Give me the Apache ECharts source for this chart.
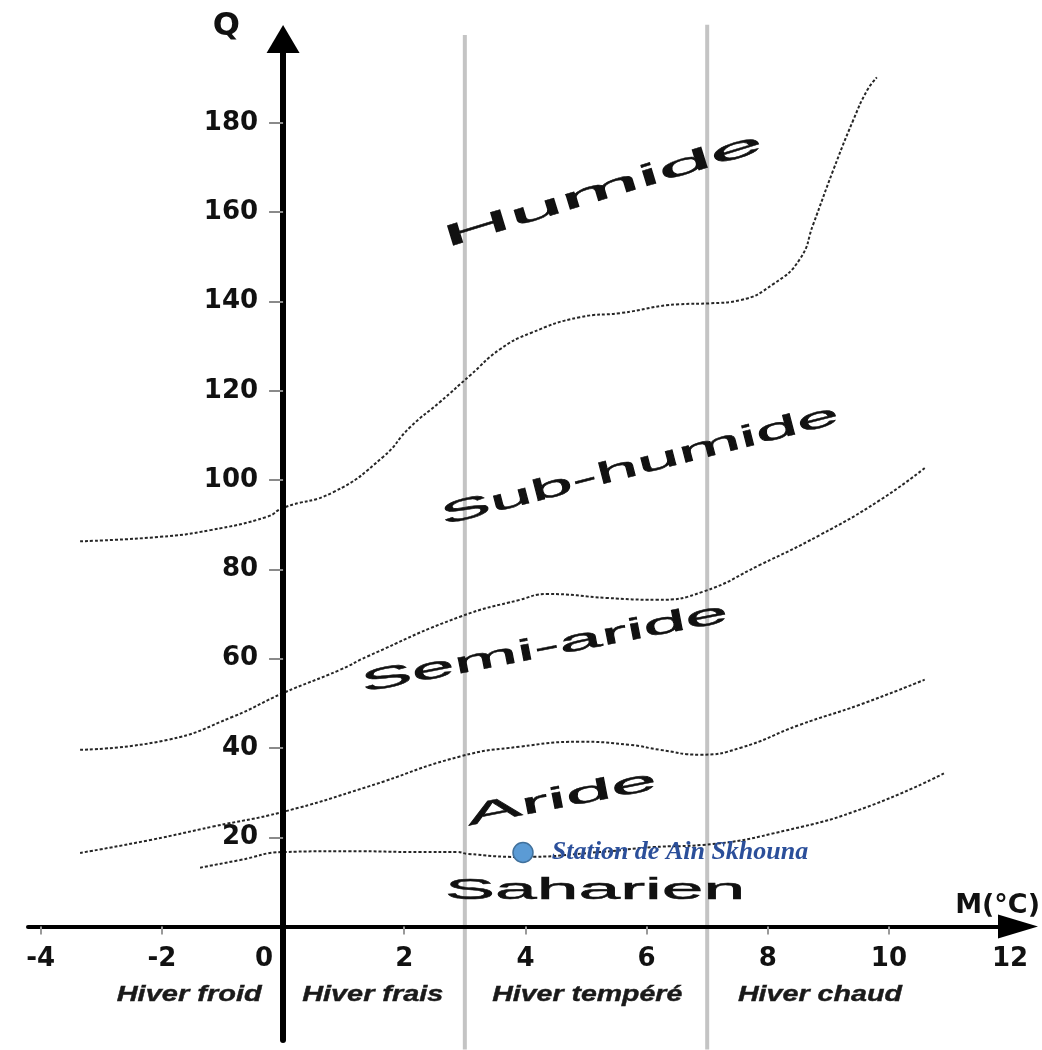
<!DOCTYPE html>
<html lang="fr">
<head>
<meta charset="utf-8">
<title>Climagramme d'Emberger</title>
<script src="https://cdn.jsdelivr.net/npm/echarts@6/dist/echarts.min.js"></script>
<style>
  html, body { margin: 0; padding: 0; background: #ffffff; }
  #chart { width: 1042px; height: 1050px; }
</style>
</head>
<body>
<div id="chart"></div>
<script>
// ---- Axis tick values ----
const mTicks = [-4, -2, 0, 2, 4, 6, 8, 10, 12];
const qTicks = [20, 40, 60, 80, 100, 120, 140, 160, 180];

// ---- Boundaries between bioclimatic stages (M in °C, Q) ----
const humideM = [-3.35, -2.03, -1.2, -0.26, 0, 0.83, 1.65, 2.1, 2.59, 3.09, 3.58, 4.08, 4.9, 5.56, 6.55, 7.05, 7.54, 8.09, 8.53, 8.75, 9.08, 9.41, 9.64, 9.8];
const humideQ = [86.3, 87.3, 88.8, 91.8, 93.8, 97.3, 105.2, 111.9, 117.5, 123.5, 129.3, 132.9, 136.5, 137.4, 139.4, 139.6, 140.3, 143.9, 149.5, 157.3, 169.4, 180.6, 187.3, 190.2];

const subHumideM = [-3.35, -1.91, -0.83, 0, 0.94, 1.39, 2.92, 3.91, 4.36, 5.35, 6.17, 6.93, 7.87, 8.86, 9.85, 10.59];
const subHumideQ = [39.6, 41.8, 47.0, 52.3, 57.5, 60.5, 69.4, 73.2, 74.5, 73.6, 73.2, 75.0, 81.0, 87.7, 95.5, 102.7];

const semiArideM = [-3.35, -2.19, -1.16, 0, 1.39, 2.92, 3.91, 4.9, 5.73, 6.22, 6.88, 7.54, 8.53, 9.52, 10.59];
const semiArideQ = [16.5, 19.4, 22.4, 25.7, 31.3, 38.1, 40.3, 41.4, 40.7, 39.6, 38.5, 40.0, 45.2, 49.7, 55.3];

const arideM = [-1.37, -0.71, 0, 1.1, 2.26, 2.87, 3.04, 3.91, 5.23, 6.1, 6.93, 8.32, 9.64, 10.92];
const arideQ = [13.2, 14.9, 16.7, 16.9, 16.7, 16.7, 16.3, 15.6, 16.7, 17.8, 18.3, 21.6, 26.8, 34.4];

// ---- Winter type limits (M in °C) ----
const winterLimitsM = [3, 7];
const winterLimitsTopQ = [199.7, 202];
const winterLimitsBottomQ = -27.5;

// ---- Station ----
const stationName = 'Station de Ain Skhouna';
const stationM = 3.96;
const stationQ = 16.6;

// ---- Stage names and their anchors ----
const zoneNames = ['Humide', 'Sub-humide', 'Semi-aride', 'Aride', 'Saharien'];
const zoneM = [5.28, 5.89, 4.32, 4.6, 5.15];
const zoneQ = [164.8, 103.2, 62.3, 28.6, 8.1];

// ---- Winter type names and their anchors ----
const winterNames = ['Hiver froid', 'Hiver frais', 'Hiver tempéré', 'Hiver chaud'];
const winterM = [-1.55, 1.48, 5.02, 8.86];
const winterQ = [-15.3, -15.3, -15.3, -15.3];

// ---- Axis extents ----
const mMin = -4.21, mMax = 12.13;
const qMin = -25.4, qMax = 198.8;

// ---- Layout ----
const W = 1042, H = 1050;
const gridBox = { left: 28, right: 24, top: 39, bottom: 10 };
const plotW = W - gridBox.left - gridBox.right;
const plotH = H - gridBox.top - gridBox.bottom;
// Both axes cross at the origin: shift them from the grid edges onto M = 0 / Q = 0
const xAxisShift = -(0 - qMin) / (qMax - qMin) * plotH;
const yAxisShift = -(0 - mMin) / (mMax - mMin) * plotW;

// ---- Text looks (angle in degrees, width in px along the baseline) ----
const zoneLook = [
  { angle: 17, width: 333 },
  { angle: 14.5, width: 410 },
  { angle: 11, width: 373 },
  { angle: 11, width: 193 },
  { angle: 0, width: 300 }
];
const winterLook = [
  { angle: 0, width: 145 },
  { angle: 0, width: 141 },
  { angle: 0, width: 190 },
  { angle: 0, width: 164 }
];

const measureCtx = document.createElement('canvas').getContext('2d');
function widthScale(text, font, target) {
  measureCtx.font = font;
  return target / measureCtx.measureText(text).width;
}

// Text drawn at a data position, stretched horizontally to a given width
function textSeries(names, ms, qs, looks, base) {
  return {
    type: 'custom',
    coordinateSystem: 'cartesian2d',
    silent: true,
    z: 6,
    data: ms.map((m, i) => [m, qs[i]]),
    renderItem: function (params, api) {
      const i = params.dataIndex;
      const look = looks[i];
      const p = api.coord([api.value(0), api.value(1)]);
      const font = base.style + ' ' + base.weight + ' ' + base.size + 'px ' + base.family;
      return {
        type: 'text',
        x: p[0],
        y: p[1],
        rotation: look.angle * Math.PI / 180,
        scaleX: widthScale(names[i], font, look.width),
        style: {
          text: names[i],
          font: font,
          fill: base.color,
          stroke: base.color,
          lineWidth: base.stroke,
          align: 'center',
          verticalAlign: 'middle'
        }
      };
    }
  };
}

function pairs(xs, ys) { return xs.map((x, i) => [x, ys[i]]); }

const curveStyle = { color: '#262626', width: 2, type: [3, 2] };

function boundary(name, xs, ys) {
  return {
    name: name,
    type: 'line',
    data: pairs(xs, ys),
    smooth: 0.5,
    symbol: 'none',
    z: 3,
    lineStyle: curveStyle
  };
}

const tickFont = { fontFamily: '"DejaVu Sans"', fontWeight: 'bold', fontSize: 26, color: '#111111' };

const chart = echarts.init(document.getElementById('chart'), null, { renderer: 'canvas' });

chart.setOption({
  animation: false,
  backgroundColor: '#ffffff',
  grid: Object.assign({ containLabel: false, outerBoundsMode: 'none' }, gridBox),
  xAxis: {
    type: 'value',
    position: 'bottom',
    offset: xAxisShift,
    min: mMin,
    max: mMax,
    z: 4,
    name: 'M(°C)',
    nameLocation: 'end',
    nameGap: 22,
    nameTextStyle: {
      fontFamily: '"DejaVu Sans"', fontWeight: 'bold', fontSize: 27, color: '#111111',
      align: 'right', verticalAlign: 'bottom', padding: [0, 0, 7, 0]
    },
    axisLine: {
      onZero: false,
      symbol: ['none', 'triangle'],
      symbolSize: [24, 40],
      lineStyle: { color: '#000000', width: 4 }
    },
    axisTick: { show: true, customValues: [-4, -2, 2, 4, 6, 8, 10], length: 8, lineStyle: { color: '#9a9a9a', width: 2 } },
    axisLabel: Object.assign({
      customValues: mTicks,
      margin: 20,
      formatter: function (v) { return v === 0 ? '{o|0}' : String(v); },
      rich: { o: Object.assign({ padding: [0, 38, 0, 0] }, tickFont) }
    }, tickFont),
    splitLine: { show: false }
  },
  yAxis: {
    type: 'value',
    position: 'left',
    offset: yAxisShift,
    min: qMin,
    max: qMax,
    z: 4,
    name: 'Q',
    nameLocation: 'end',
    nameGap: -4,
    nameTextStyle: {
      fontFamily: '"DejaVu Sans"', fontWeight: 'bold', fontSize: 32, color: '#111111',
      align: 'right', verticalAlign: 'bottom', padding: [0, 43, 0, 0]
    },
    axisLine: {
      onZero: false,
      symbol: ['none', 'triangle'],
      symbolSize: [33, 28],
      lineStyle: { color: '#000000', width: 6 }
    },
    axisTick: { show: true, customValues: qTicks, length: 14, lineStyle: { color: '#8a8a8a', width: 2 } },
    axisLabel: Object.assign({ customValues: qTicks, margin: 25 }, tickFont),
    splitLine: { show: false }
  },
  series: [
    // Winter type limits
    ...winterLimitsM.map((m, i) => ({
      type: 'line',
      data: [[m, winterLimitsBottomQ], [m, winterLimitsTopQ[i]]],
      symbol: 'none',
      clip: false,
      silent: true,
      z: 1,
      lineStyle: { color: '#c4c4c4', width: 4 }
    })),
    boundary('Humide / Sub-humide', humideM, humideQ),
    boundary('Sub-humide / Semi-aride', subHumideM, subHumideQ),
    boundary('Semi-aride / Aride', semiArideM, semiArideQ),
    boundary('Aride / Saharien', arideM, arideQ),
    textSeries(zoneNames, zoneM, zoneQ, zoneLook,
      { style: 'normal', weight: 'normal', size: 30, family: '"Liberation Sans"', color: '#111111', stroke: 0.5 }),
    textSeries(winterNames, winterM, winterQ, winterLook,
      { style: 'italic', weight: 'bold', size: 22, family: '"Liberation Sans"', color: '#1a1a1a', stroke: 0.4 }),
    {
      name: stationName,
      type: 'scatter',
      data: [{ name: stationName, value: [stationM, stationQ] }],
      symbol: 'circle',
      symbolSize: 20,
      z: 7,
      itemStyle: { color: '#5b9bd5', borderColor: '#41719c', borderWidth: 1.5, opacity: 1 },
      label: {
        show: true,
        position: 'right',
        distance: 18,
        formatter: '{b}',
        fontFamily: '"Liberation Serif"',
        fontStyle: 'italic',
        fontWeight: 'bold',
        fontSize: 26,
        color: '#2b4f9a'
      }
    }
  ]
});
</script>
</body>
</html>
